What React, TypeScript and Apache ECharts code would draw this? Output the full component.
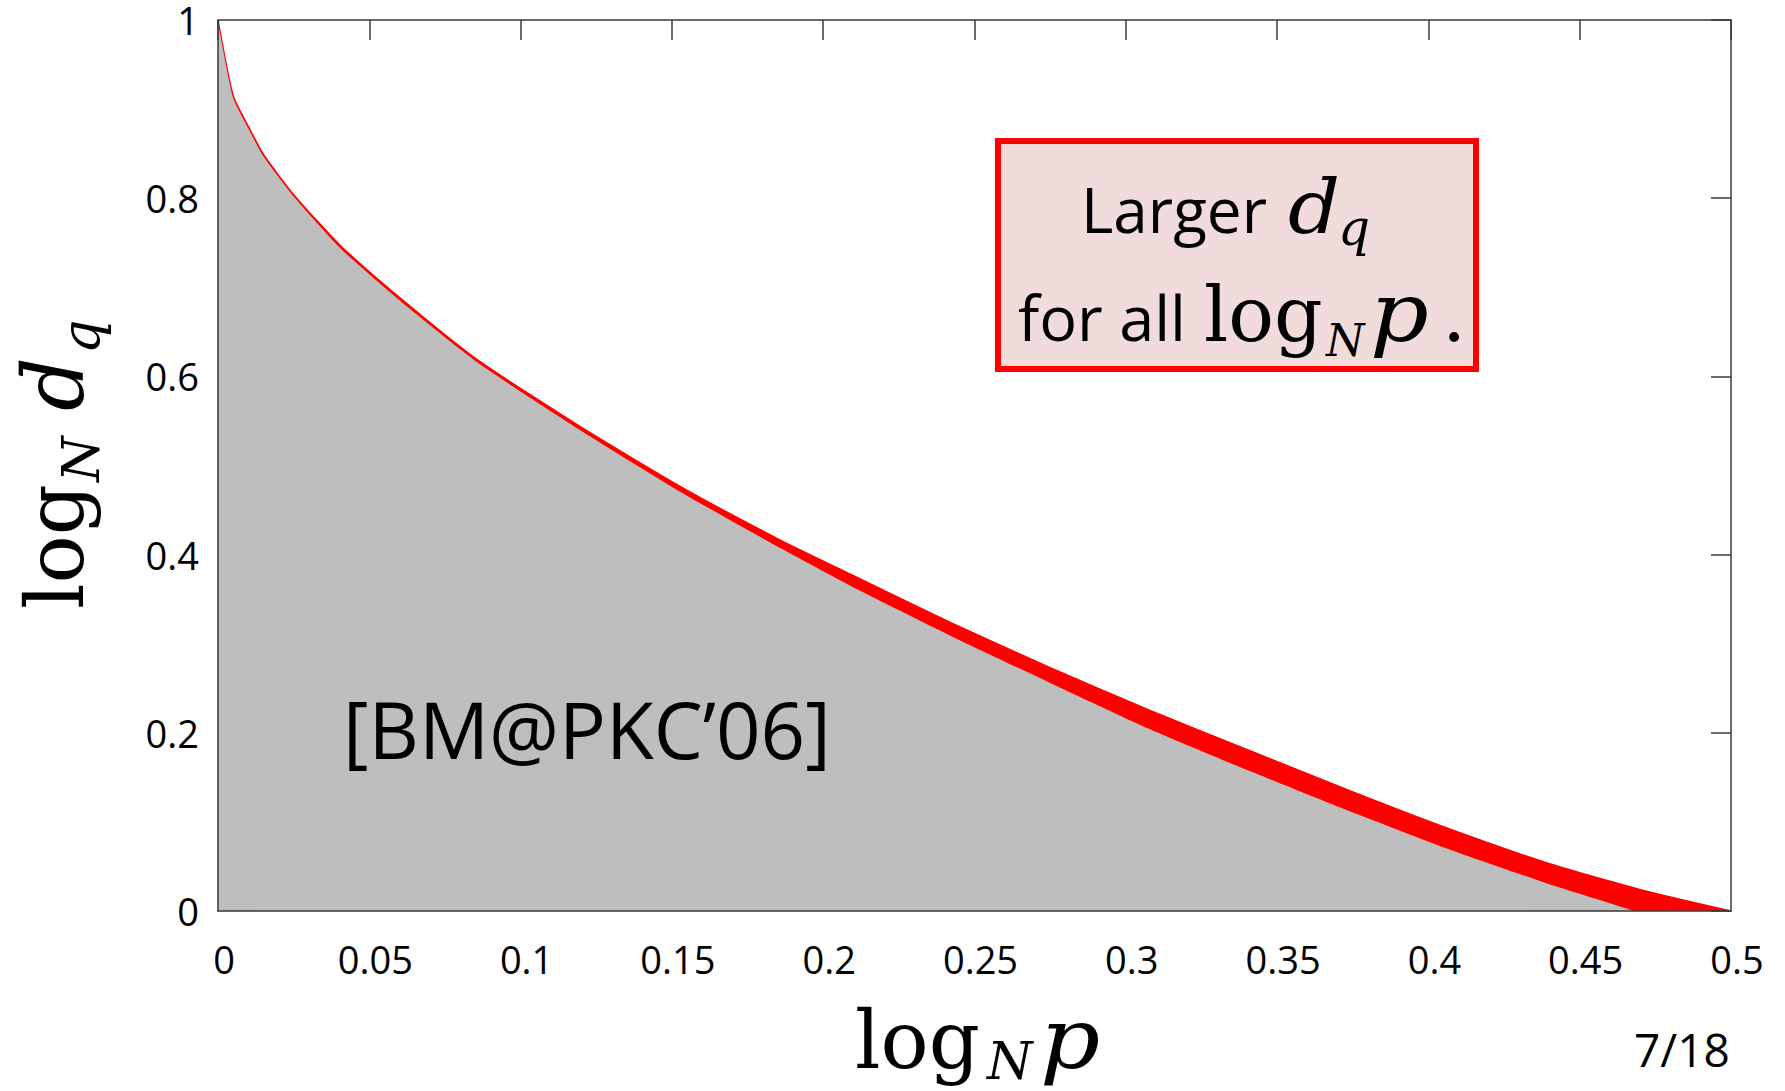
import React, { useEffect, useRef } from "react";
import * as echarts from "echarts";

// upper boundary (red) of the region: log_N p vs log_N d_q
const upperX = [0, 0.005, 0.0104, 0.015, 0.025, 0.041, 0.063, 0.086, 0.12, 0.153, 0.186, 0.209, 0.242, 0.275, 0.308, 0.341, 0.374, 0.407, 0.44, 0.47, 0.5];
const upperY = [1, 0.915, 0.878, 0.849, 0.804, 0.745, 0.68, 0.618, 0.543, 0.476, 0.416, 0.378, 0.324, 0.273, 0.225, 0.18, 0.135, 0.092, 0.053, 0.024, 0];
// lower boundary (grey region, [BM@PKC'06])
const lowerX = [0, 0.005, 0.0104, 0.015, 0.025, 0.041, 0.063, 0.086, 0.12, 0.153, 0.186, 0.209, 0.242, 0.275, 0.308, 0.341, 0.374, 0.407, 0.44, 0.455, 0.468];
const lowerY = [0.998, 0.913, 0.876, 0.847, 0.802, 0.742, 0.677, 0.615, 0.539, 0.47, 0.407, 0.365, 0.309, 0.256, 0.204, 0.157, 0.112, 0.069, 0.03, 0.014, 0];

const xMin = 0;
const xMax = 0.5;
const xStep = 0.05;
const yMin = 0;
const yMax = 1;
const yStep = 0.2;

const SERIF = "'DejaVu Serif'";
const SANS = "'Open Sans'";

function t(text: string, x: number, baseline: number, size: number, family: string, italic = false, k = 0.346, sx = 1) {
  return {
    type: "text",
    x,
    y: baseline - k * size,
    scaleX: sx,
    z: 100,
    style: {
      text,
      font: `${italic ? "italic " : ""}${size}px ${family}`,
      fill: "#000",
      textAlign: "left",
      textVerticalAlign: "middle",
    },
  };
}

export default function App() {
  const ref = useRef<HTMLDivElement>(null);
  useEffect(() => {
    const chart = echarts.init(ref.current!, null, { renderer: "svg" });
    const upper = upperX.map((x, i) => [x, upperY[i]]);
    const lower = lowerX.map((x, i) => [x, lowerY[i]]);
    const frame = { color: "#3a3a3a", width: 1.5 };
    const tickFont = { fontFamily: "Open Sans", fontSize: 38, color: "#000" };
    chart.setOption({
      animation: false,
      backgroundColor: "#ffffff",
      grid: { left: 218, top: 20, right: 54, bottom: 180, containLabel: false },
      xAxis: [
        {
          type: "value", min: xMin, max: xMax, interval: xStep, position: "bottom", z: 10,
          axisLine: { show: true, onZero: false, lineStyle: frame },
          axisTick: { show: false },
          splitLine: { show: false },
          axisLabel: { ...tickFont, margin: 29, padding: [0, 0, 0, 12] },
        },
        {
          type: "value", min: xMin, max: xMax, interval: xStep, position: "top", z: 10,
          axisLine: { show: true, onZero: false, lineStyle: frame },
          axisTick: { show: true, inside: true, length: 20, lineStyle: frame },
          splitLine: { show: false },
          axisLabel: { show: false },
        },
      ],
      yAxis: [
        {
          type: "value", min: yMin, max: yMax, interval: yStep, position: "left", z: 10,
          axisLine: { show: true, onZero: false, lineStyle: frame },
          axisTick: { show: false },
          splitLine: { show: false },
          axisLabel: { ...tickFont, margin: 19 },
        },
        {
          type: "value", min: yMin, max: yMax, interval: yStep, position: "right", z: 10,
          axisLine: { show: true, onZero: false, lineStyle: frame },
          axisTick: { show: true, inside: true, length: 20, lineStyle: frame },
          splitLine: { show: false },
          axisLabel: { show: false },
        },
      ],
      series: [
        {
          type: "line", data: upper, xAxisIndex: 0, yAxisIndex: 0, symbol: "none", z: 2,
          smooth: 0.2,
          lineStyle: { color: "#ff0000", width: 1.5 },
          areaStyle: { color: "#ff0000", opacity: 1 },
        },
        {
          type: "line", data: lower, xAxisIndex: 0, yAxisIndex: 0, symbol: "none", z: 3,
          smooth: 0.2,
          lineStyle: { color: "#bebebe", width: 0 },
          areaStyle: { color: "#bebebe", opacity: 1 },
        },
      ],
      graphic: [
        // x-axis title
        t("log", 855, 1068, 80, SERIF),
        t("N", 987, 1079, 52, SERIF, true),
        t("p", 1040, 1068, 84, SERIF, true, 0.346, 1.12),
        // y-axis title (rotated)
        {
          type: "group", x: 83, y: 609, rotation: Math.PI / 2, z: 100,
          children: [
            t("log", 0, 0, 80, SERIF),
            t("N", 127, 16, 52, SERIF, true),
            t("d", 198, 0, 84, SERIF, true),
            t("q", 255, 17, 54, SERIF, true),
          ],
        },
        // annotation box
        {
          type: "rect", z: 90,
          shape: { x: 998, y: 141, width: 478, height: 228 },
          style: { fill: "#f2dcdb", stroke: "#ff0000", lineWidth: 6 },
        },
        t("Larger", 1081, 233, 62, SANS, false, 0.388),
        t("d", 1288, 233, 74, SERIF, true, 0.346, 1.1),
        t("q", 1338, 245, 50, SERIF, true),
        t("for all", 1018, 341, 63, SANS, false, 0.388),
        t("log", 1204, 341, 76, SERIF),
        t("N", 1326, 356, 44, SERIF, true),
        t("p", 1370, 341, 82, SERIF, true, 0.346, 1.12),
        t(".", 1442, 341, 76, SERIF),
        // reference label
        t("[BM@PKC\u201906]", 343, 759, 78, SANS, false, 0.388),
        // slide number
        t("7/18", 1634, 1067, 46, SANS, false, 0.388),
      ],
    });
    return () => chart.dispose();
  }, []);
  return <div ref={ref} style={{ position: "absolute", left: 0, top: 0, width: 1785, height: 1091 }} />;
}
